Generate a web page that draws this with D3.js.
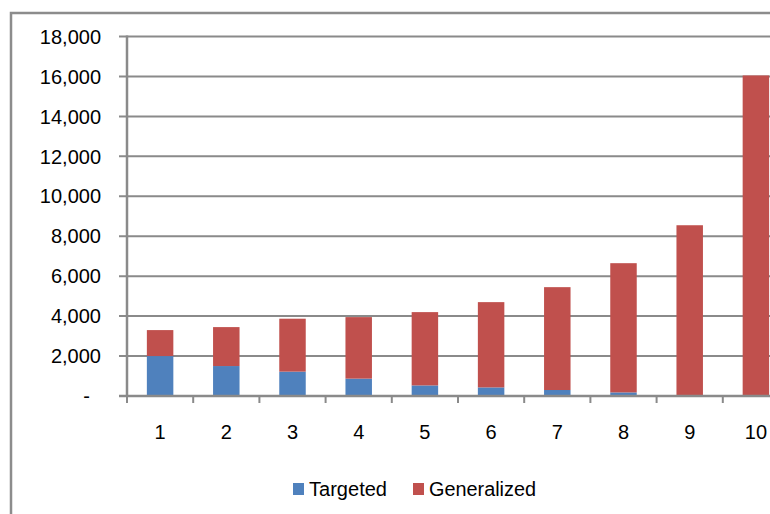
<!DOCTYPE html>
<html>
<head>
<meta charset="utf-8">
<script src="https://cdn.jsdelivr.net/npm/d3@7"></script>
<style>
  html, body { margin: 0; padding: 0; background: #fff; }
  svg { display: block; font-family: "Liberation Sans", Arial, sans-serif; }
</style>
</head>
<body>
<svg id="chart" width="770" height="514"></svg>
<script>
// Categories and stacked series
const categories = ["1", "2", "3", "4", "5", "6", "7", "8", "9", "10"];
const targeted    = [2000, 1500, 1220, 870, 530, 430, 300, 180, 20, 10];
const generalized = [1300, 1950, 2650, 3080, 3670, 4270, 5150, 6470, 8530, 16040];
const yTicks = [0, 2000, 4000, 6000, 8000, 10000, 12000, 14000, 16000, 18000];
const seriesNames = ["Targeted", "Generalized"];
const seriesColors = ["#4F81BD", "#C0504D"];

const svg = d3.select("#chart");
const gridColor = "#8a8a8a";

// Outer chart frame (runs past the right and bottom edges)
svg.append("rect")
  .attr("x", 11).attr("y", 13)
  .attr("width", 800).attr("height", 520)
  .attr("fill", "none").attr("stroke", "#8c8c8c").attr("stroke-width", 2.5);

const plot = { left: 127, right: 789, top: 36.5, bottom: 396 };

const x = d3.scaleBand()
  .domain(categories)
  .range([plot.left, plot.right])
  .paddingInner(0.6)
  .paddingOuter(0.3);

const y = d3.scaleLinear()
  .domain([0, 18000])
  .range([plot.bottom, plot.top]);

// Horizontal gridlines with outward tick marks
svg.append("g").selectAll("line")
  .data(yTicks.filter(d => d > 0))
  .join("line")
  .attr("x1", plot.left - 8).attr("x2", plot.right + 20)
  .attr("y1", d => y(d)).attr("y2", d => y(d))
  .attr("stroke", gridColor).attr("stroke-width", 2);

// Stacked bars
const rows = categories.map((c, i) => ({ cat: c, Targeted: targeted[i], Generalized: generalized[i] }));
const stack = d3.stack().keys(seriesNames)(rows);

svg.append("g").selectAll("g")
  .data(stack)
  .join("g")
  .attr("fill", (d, i) => seriesColors[i])
  .selectAll("rect")
  .data(d => d)
  .join("rect")
  .attr("x", d => x(d.data.cat))
  .attr("width", x.bandwidth())
  .attr("y", d => y(d[1]))
  .attr("height", d => y(d[0]) - y(d[1]));

// Value axis line and zero line
svg.append("line")
  .attr("x1", plot.left).attr("x2", plot.left)
  .attr("y1", plot.top - 1).attr("y2", plot.bottom + 1)
  .attr("stroke", gridColor).attr("stroke-width", 2.5);

svg.append("line")
  .attr("x1", plot.left - 8).attr("x2", plot.right + 20)
  .attr("y1", y(0)).attr("y2", y(0))
  .attr("stroke", gridColor).attr("stroke-width", 2.5);

// Category tick marks at band boundaries
const boundaries = categories.map(c => x(c) - x.step() * x.paddingOuter()).concat([plot.right]);
svg.append("g").selectAll("line")
  .data(boundaries)
  .join("line")
  .attr("x1", d => d).attr("x2", d => d)
  .attr("y1", y(0)).attr("y2", y(0) + 7)
  .attr("stroke", gridColor).attr("stroke-width", 2);

// Value labels (accounting style: zero shown as a dash)
const fmt = d3.format(",");
svg.append("g").selectAll("text")
  .data(yTicks)
  .join("text")
  .attr("x", d => d === 0 ? 90 : 101)
  .attr("y", d => y(d))
  .attr("dy", "0.36em")
  .attr("text-anchor", "end")
  .attr("font-size", 20)
  .attr("fill", "#000")
  .text(d => d === 0 ? "-" : fmt(d));

// Category labels
svg.append("g").selectAll("text")
  .data(categories)
  .join("text")
  .attr("x", d => x(d) + x.bandwidth() / 2)
  .attr("y", 439)
  .attr("text-anchor", "middle")
  .attr("font-size", 20)
  .attr("fill", "#000")
  .text(d => d);

// Legend
const legendItems = [
  { name: seriesNames[0], color: seriesColors[0], x: 293 },
  { name: seriesNames[1], color: seriesColors[1], x: 413 }
];
const lg = svg.append("g").selectAll("g")
  .data(legendItems)
  .join("g")
  .attr("transform", d => `translate(${d.x},0)`);
lg.append("rect")
  .attr("x", 0).attr("y", 483)
  .attr("width", 11).attr("height", 12)
  .attr("fill", d => d.color);
lg.append("text")
  .attr("x", 16).attr("y", 496)
  .attr("font-size", 20)
  .attr("textLength", d => d.name === "Targeted" ? 78 : 107)
  .attr("lengthAdjust", "spacingAndGlyphs")
  .attr("fill", "#000")
  .text(d => d.name);
</script>
</body>
</html>
